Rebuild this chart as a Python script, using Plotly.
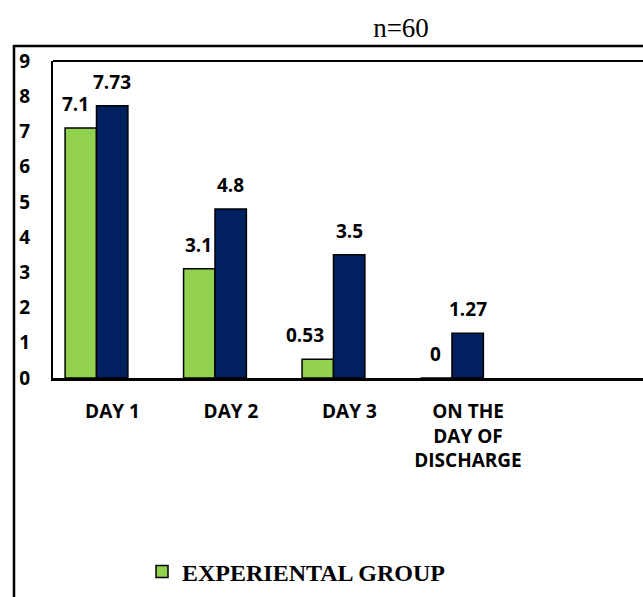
import plotly.graph_objects as go

categories = ["DAY 1", "DAY 2", "DAY 3", "ON THE<br>DAY OF<br>DISCHARGE"]
experimental = [7.1, 3.1, 0.53, 0]
control = [7.73, 4.8, 3.5, 1.27]
exp_labels = ["7.1", "3.1", "0.53", "0"]
ctrl_labels = ["7.73", "4.8", "3.5", "1.27"]
y_ticks = [0, 1, 2, 3, 4, 5, 6, 7, 8, 9]

GREEN = "#92D050"
NAVY = "#002060"
SANS = "Open Sans"
SERIF = "Liberation Serif"

W, H = 643, 597
L, T, B = 53, 61, 219
PW, PH = W - L, H - T - B

fig = go.Figure()
fig.add_trace(go.Bar(x=categories, y=experimental, name="EXPERIENTAL GROUP",
                     marker=dict(color=GREEN, line=dict(color="black", width=1.5))))
fig.add_trace(go.Bar(x=categories, y=control, name="CONTROL GROUP", showlegend=False,
                     marker=dict(color=NAVY, line=dict(color="black", width=1.5))))

label_font = dict(family=SANS, size=19, color="black", weight="bold")
nudge_exp = [-5, 0, -12, 0]
annotations = []
for i, c in enumerate(categories):
    annotations.append(dict(x=c, y=experimental[i], text=exp_labels[i], showarrow=False,
                            xref="x", yref="y", xshift=-16 + nudge_exp[i], yshift=24,
                            font=label_font))
    annotations.append(dict(x=c, y=control[i], text=ctrl_labels[i], showarrow=False,
                            xref="x", yref="y", xshift=16, yshift=24,
                            font=label_font))

fig.update_layout(
    width=W, height=H,
    margin=dict(l=L, r=0, t=T, b=B, pad=0),
    paper_bgcolor="white", plot_bgcolor="white",
    barmode="group", bargap=0.47, bargroupgap=0,
    title=dict(text="n=60", x=401 / W, xanchor="center", xref="container",
               y=1 - 28 / H, yanchor="middle", yref="container",
               font=dict(family=SERIF, size=27, color="black")),
    showlegend=True,
    legend=dict(orientation="h", x=(142 - L) / PW, xanchor="left",
                y=(378 - 572) / PH, yanchor="middle",
                font=dict(family=SERIF, size=24, color="black", weight="bold"),
                bgcolor="rgba(0,0,0,0)"),
    annotations=annotations,
    xaxis=dict(type="category", range=[-0.367, 4.612], showgrid=False, zeroline=False,
               showline=True, linecolor="black", linewidth=3, ticks="",
               ticklabelshift=16, ticklabelstandoff=14,
               tickfont=label_font),
    yaxis=dict(range=[0, 9], tickvals=y_ticks, showgrid=False, zeroline=False,
               showline=True, linecolor="black", linewidth=2, ticks="",
               ticklabelstandoff=17,
               tickfont=label_font),
    shapes=[
        dict(type="line", xref="paper", yref="paper", x0=0, x1=1.1, y0=1, y1=1,
             line=dict(color="black", width=2)),
        dict(type="rect", xref="paper", yref="paper", x0=(14 - L) / PW, x1=1.1,
             y0=-0.8, y1=1 + 15 / PH, line=dict(color="black", width=2.5)),
    ],
)

fig.write_html("out.html", config={"displayModeBar": False},
               post_script="document.body.style.margin='0';document.body.style.overflow='hidden';")
